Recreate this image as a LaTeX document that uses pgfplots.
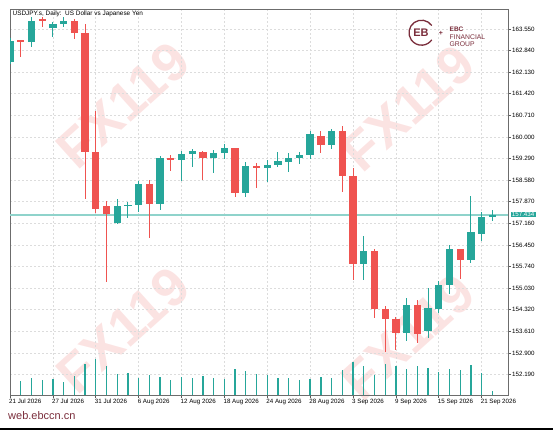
\documentclass[border=0pt]{standalone}
\usepackage{pgfplots}
\usepackage{pgfplotstable}
\pgfplotsset{compat=1.18}
\usepackage{fontspec}
\setmainfont{Liberation Sans}
\definecolor{bull}{HTML}{26A69A}
\definecolor{bear}{HTML}{EF5350}
\definecolor{pline}{HTML}{8FD3CB}
\definecolor{maroon}{HTML}{7A2D3B}
\definecolor{wm}{HTML}{E53935}
\definecolor{gridc}{HTML}{DCDCDC}

% Bullish candles: index, open, high, low, close
\pgfplotstableread{
i O H L C
0 162.48 163.25 162.40 163.17
2 163.13 163.95 162.97 163.82
4 163.59 163.78 163.30 163.72
5 163.71 163.94 163.63 163.82
10 157.16 157.95 157.15 157.74
11 157.75 157.87 157.33 157.77
12 157.75 158.55 157.54 158.46
14 157.79 159.38 157.60 159.30
16 159.25 159.54 158.55 159.43
17 159.43 159.60 159.02 159.53
19 159.30 159.57 158.83 159.48
20 159.46 159.78 159.27 159.63
22 158.15 159.19 158.04 159.06
24 158.98 159.24 158.53 159.09
25 159.08 159.50 159.02 159.21
26 159.19 159.46 158.86 159.32
27 159.30 159.52 159.11 159.41
28 159.40 160.20 159.29 160.10
30 159.74 160.25 159.61 160.20
33 155.82 156.76 155.30 156.26
37 153.57 154.70 153.29 154.48
39 153.63 155.03 153.38 154.37
40 154.35 155.27 154.22 155.14
41 155.13 156.45 154.84 156.32
43 155.96 158.07 155.87 156.88
44 156.82 157.54 156.58 157.37
45 157.40 157.59 157.25 157.434
}\bulltab

% Bearish candles
\pgfplotstableread{
i O H L C
1 163.17 163.19 162.63 163.15
3 163.87 163.94 163.62 163.85
6 163.82 163.87 163.21 163.41
7 163.41 163.71 157.96 159.52
8 159.52 160.85 157.49 157.63
9 157.74 157.90 155.24 157.47
13 158.46 158.59 156.67 157.79
15 159.30 159.40 158.89 159.28
18 159.52 159.53 158.59 159.30
21 159.63 159.65 158.04 158.15
23 159.05 159.14 158.33 158.98
29 160.03 160.20 159.46 159.74
31 160.20 160.37 158.20 158.72
32 158.72 158.97 155.30 155.82
34 156.26 156.31 154.04 154.36
35 154.36 154.44 152.93 154.01
36 154.01 154.09 153.00 153.57
38 154.48 154.64 153.24 153.53
42 156.32 156.33 155.34 155.96
}\beartab

% Tick volumes
\pgfplotstableread{
i V
1 14000
2 16700
3 14700
4 16000
5 13300
6 19000
7 30700
8 36000
9 29300
10 21300
11 22000
12 16700
13 20000
14 18000
15 14700
16 18000
17 16700
18 18700
19 17300
20 16000
21 26000
22 24000
23 21300
24 20000
25 16700
26 16700
27 15300
28 16000
29 18000
30 16700
31 25300
32 32700
33 28700
34 20000
35 31300
36 29300
37 26000
38 28700
39 27300
40 23300
41 26000
42 25300
43 30000
44 22000
45 4000
}\voltab

\begin{document}
\begin{tikzpicture}
\path[use as bounding box] (0pt,0pt) rectangle (553pt,430pt);
% watermarks
\begin{scope}[opacity=0.14]
\foreach \px/\py in {123/325, 123/100, 408/322, 408/93}{
  \node[rotate=42, text=wm, font=\fontsize{54}{54}\selectfont\bfseries] at (\px pt,\py pt) {FX119};
}
\end{scope}

% price axis
\begin{axis}[name=price, at={(10pt,35pt)}, anchor=south west, width=498pt, height=386pt, scale only axis,
  xmin=0, xmax=46.46, ymin=151.519, ymax=164.207,
  axis line style={draw=gray!85!black, line width=0.8pt},
  tick style={draw=gray!70!black, line width=0.6pt},
  tick align=outside, major tick length=3pt,
  xtick={0,4,...,44},
  xticklabels={21 Jul 2026, 27 Jul 2026, 31 Jul 2026, 6 Aug 2026, 12 Aug 2026, 18 Aug 2026, 24 Aug 2026, 28 Aug 2026, 3 Sep 2026, 9 Sep 2026, 15 Sep 2026, 21 Sep 2026},
  xtick pos=bottom,
  xticklabel style={anchor=north west, inner sep=0pt, xshift=-1pt, yshift=-1pt, font=\fontsize{6.2}{7}\selectfont},
  ytick={152.19,152.90,153.61,154.32,155.03,155.74,156.45,157.16,157.87,158.58,159.29,160.00,160.71,161.42,162.13,162.84,163.55},
  ytick pos=right, yticklabel pos=right,
  yticklabel style={anchor=west, inner sep=0pt, xshift=1pt, font=\fontsize{6.2}{7}\selectfont},
  y tick label style={/pgf/number format/fixed, /pgf/number format/fixed zerofill, /pgf/number format/precision=3, /pgf/number format/1000 sep={}},
  /pgf/number format/assume math mode=true,
  grid=major, major grid style={draw=gridc, dash pattern=on 2pt off 2pt, line width=0.6pt},
  clip=true]
% current price line
\addplot[draw=pline, line width=1.2pt, mark=none, forget plot] coordinates {(0,157.434) (46.46,157.434)};
% wicks
\addplot[draw=none, no markers, forget plot, error bars/.cd, y dir=both, y explicit, error mark=none,
  error bar style={draw=bull, line width=1pt}]
  table[x=i, y expr={(\thisrow{H}+\thisrow{L})/2}, y error expr={(\thisrow{H}-\thisrow{L})/2}] {\bulltab};
\addplot[draw=none, no markers, forget plot, error bars/.cd, y dir=both, y explicit, error mark=none,
  error bar style={draw=bear, line width=1pt}]
  table[x=i, y expr={(\thisrow{H}+\thisrow{L})/2}, y error expr={(\thisrow{H}-\thisrow{L})/2}] {\beartab};
% bodies
\addplot[draw=none, no markers, forget plot, error bars/.cd, y dir=both, y explicit, error mark=none,
  error bar style={draw=bull, line width=7.3pt}]
  table[x=i, y expr={(\thisrow{O}+\thisrow{C})/2}, y error expr={max(abs(\thisrow{C}-\thisrow{O})/2,0.018)}] {\bulltab};
\addplot[draw=none, no markers, forget plot, error bars/.cd, y dir=both, y explicit, error mark=none,
  error bar style={draw=bear, line width=7.3pt}]
  table[x=i, y expr={(\thisrow{O}+\thisrow{C})/2}, y error expr={max(abs(\thisrow{C}-\thisrow{O})/2,0.018)}] {\beartab};
\end{axis}

% volume axis
\begin{axis}[at={(price.south west)}, anchor=south west, width=498pt, height=386pt, scale only axis,
  xmin=0, xmax=46.46, ymin=0, ymax=386000, axis lines=none, ticks=none, clip=true]
\addplot[ycomb, draw=bull, line width=1.3pt, mark=none] table[x=i,y=V] {\voltab};
\end{axis}

% current price tag
\node[fill=bull, text=white, inner xsep=1.2pt, inner ysep=0.8pt, anchor=west, font=\fontsize{6.2}{7}\selectfont] at (510.5pt,215.5pt) {157.434};

% title
\node[anchor=west, inner sep=0pt, font=\fontsize{6.4}{7}\selectfont] at (12.5pt,416pt) {USDJPY.s, Daily:\ \ US Dollar vs Japanese Yen};

% logo
\draw[maroon, line width=1.3pt] (421.5pt,397.3pt) ++(35:12.5pt) arc (35:325:12.5pt);
\node[maroon, font=\fontsize{11}{11}\selectfont\bfseries] at (421pt,397.3pt) {EB};
\node[maroon, font=\fontsize{7}{7}\selectfont\bfseries] at (441pt,396.5pt) {+};
\node[maroon, anchor=west, inner sep=0pt, font=\fontsize{6.5}{7}\selectfont\bfseries] at (449.5pt,401.2pt) {EBC};
\node[maroon, anchor=west, inner sep=0pt, font=\fontsize{6.8}{7}\selectfont] at (449.5pt,393.2pt) {FINANCIAL};
\node[maroon, anchor=west, inner sep=0pt, font=\fontsize{6.8}{7}\selectfont] at (449.5pt,385.7pt) {GROUP};

% footer
\node[anchor=west, inner sep=0pt, text=maroon, font=\fontsize{11}{12}\selectfont] at (8pt,14pt) {web.ebccn.cn};
\fill[black] (0pt,0pt) rectangle (553pt,1.8pt);
\end{tikzpicture}
\end{document}
